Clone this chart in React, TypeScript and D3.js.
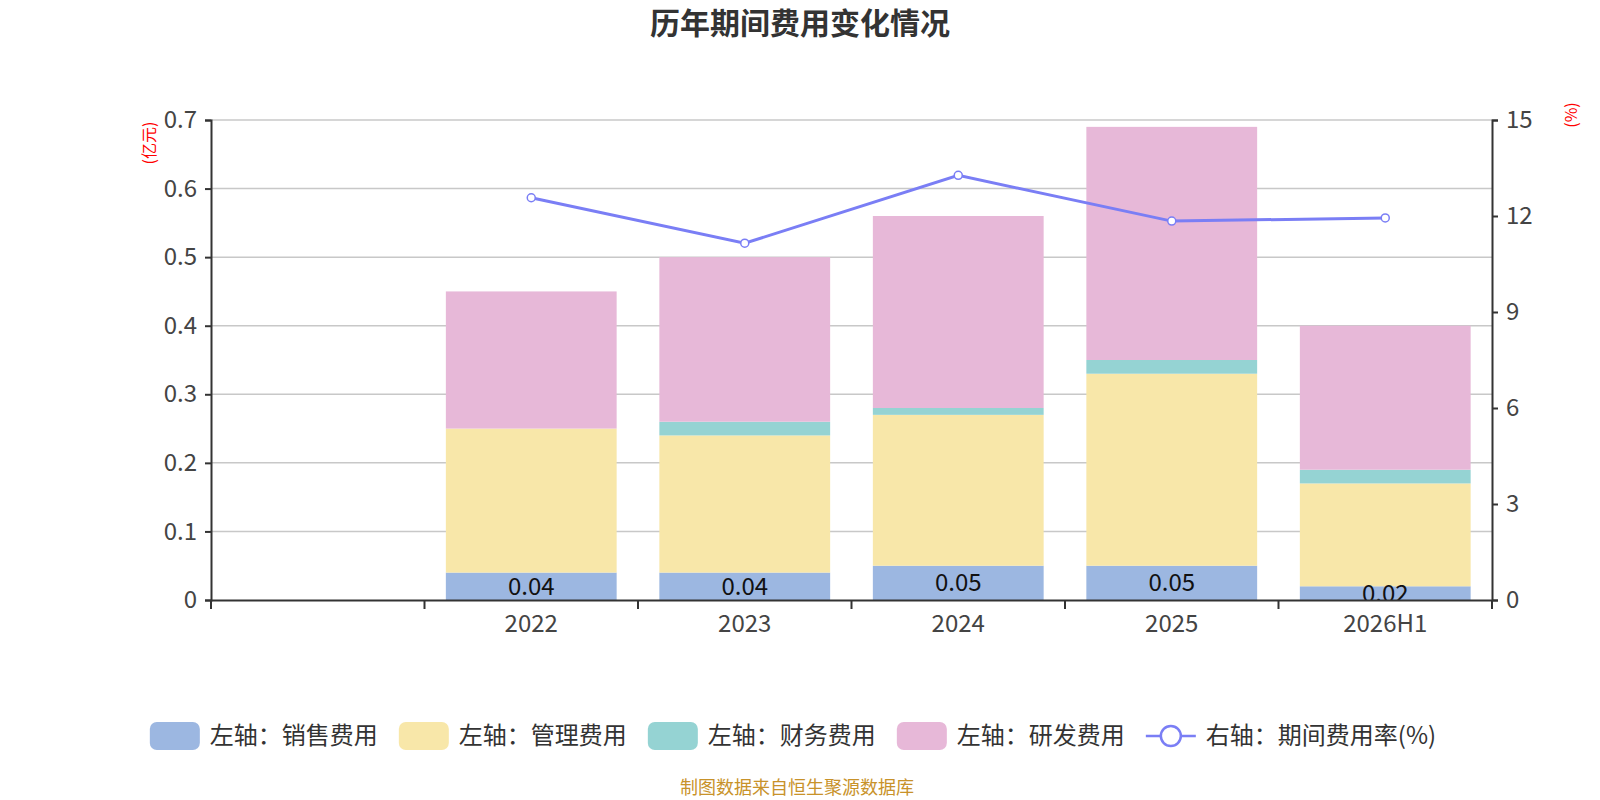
import { useEffect, useRef } from "react"
import * as d3 from "d3"

// categories (first slot is an empty category on the axis)
const categories = ["", "2022", "2023", "2024", "2025", "2026H1"]
const salesExp = [null, 0.04, 0.04, 0.05, 0.05, 0.02]
const adminExp = [null, 0.21, 0.2, 0.22, 0.28, 0.15]
const financeExp = [null, 0, 0.02, 0.01, 0.02, 0.02]
const rdExp = [null, 0.2, 0.24, 0.28, 0.34, 0.21]
const expenseRate = [null, 12.57, 11.15, 13.27, 11.84, 11.94]

const leftTicks = [0, 0.1, 0.2, 0.3, 0.4, 0.5, 0.6, 0.7]
const rightTicks = [0, 3, 6, 9, 12, 15]

const seriesNames = ["左轴：销售费用", "左轴：管理费用", "左轴：财务费用", "左轴：研发费用"]
const seriesColors = ["#9cb7e1", "#f8e7a9", "#95d3d3", "#e7b8d8"]
const lineName = "右轴：期间费用率(%)"
const lineColor = "#7a7ef5"

const FONT = "'Noto Sans CJK SC', 'Noto Sans', sans-serif"

export default function App() {
  const svgRef = useRef<SVGSVGElement>(null)

  useEffect(() => {
    if (!svgRef.current) return
    const width = 1600
    const height = 800
    const margin = { top: 120, right: 108, bottom: 200, left: 211 }
    const innerW = width - margin.left - margin.right
    const innerH = height - margin.top - margin.bottom

    const root = d3.select(svgRef.current)
    root.selectAll("*").remove()
    root.attr("width", width).attr("height", height).style("font-family", FONT)

    root
      .append("rect")
      .attr("width", width)
      .attr("height", height)
      .attr("fill", "#fff")

    // Title
    root
      .append("text")
      .attr("x", 800)
      .attr("y", 23)
      .attr("dy", "0.35em")
      .attr("text-anchor", "middle")
      .attr("font-size", 30)
      .attr("font-weight", "bold")
      .attr("fill", "#333")
      .text("历年期间费用变化情况")

    const g = root.append("g").attr("transform", `translate(${margin.left},${margin.top})`)

    const x = d3.scaleBand<string>().domain(categories).range([0, innerW]).paddingInner(0).paddingOuter(0)
    const yL = d3.scaleLinear().domain([0, 0.7]).range([innerH, 0])
    const yR = d3.scaleLinear().domain([0, 15]).range([innerH, 0])

    // grid
    g.append("g")
      .selectAll("line")
      .data(leftTicks.filter((t) => t > 0))
      .join("line")
      .attr("x1", 0)
      .attr("x2", innerW)
      .attr("y1", (d) => yL(d))
      .attr("y2", (d) => yL(d))
      .attr("stroke", "#c8c8c8")
      .attr("stroke-width", 1.5)

    // stacked bars
    const rows = categories.map((c, i) => ({
      cat: c,
      s0: salesExp[i] ?? 0,
      s1: adminExp[i] ?? 0,
      s2: financeExp[i] ?? 0,
      s3: rdExp[i] ?? 0,
    }))
    const stack = d3.stack<(typeof rows)[number]>().keys(["s0", "s1", "s2", "s3"])(rows)
    const barW = x.bandwidth() * 0.8
    const off = (x.bandwidth() - barW) / 2

    const clipId = "plot-clip"
    g.append("clipPath").attr("id", clipId).append("rect").attr("width", innerW).attr("height", innerH)

    stack.forEach((layer, li) => {
      g.append("g")
        .selectAll("rect")
        .data(layer.filter((d) => d.data.cat !== "" && d[1] - d[0] > 0))
        .join("rect")
        .attr("x", (d) => (x(d.data.cat) ?? 0) + off)
        .attr("width", barW)
        .attr("y", (d) => yL(d[1]))
        .attr("height", (d) => yL(d[0]) - yL(d[1]))
        .attr("fill", seriesColors[li])
    })

    // labels for the bottom series
    g.append("g")
      .attr("clip-path", `url(#${clipId})`)
      .selectAll("text")
      .data(stack[0].filter((d) => d.data.cat !== ""))
      .join("text")
      .attr("x", (d) => (x(d.data.cat) ?? 0) + x.bandwidth() / 2)
      .attr("y", (d) => (yL(d[0]) + yL(d[1])) / 2)
      .attr("dy", "0.35em")
      .attr("text-anchor", "middle")
      .attr("font-size", 24)
      .attr("fill", "#111")
      .text((d) => d3.format(".2f")(d[1] - d[0]))

    // rate line
    const pts = categories
      .map((c, i) => ({ c, v: expenseRate[i] }))
      .filter((d) => d.v !== null) as { c: string; v: number }[]
    const line = d3
      .line<{ c: string; v: number }>()
      .x((d) => (x(d.c) ?? 0) + x.bandwidth() / 2)
      .y((d) => yR(d.v))
    g.append("path")
      .datum(pts)
      .attr("d", line)
      .attr("fill", "none")
      .attr("stroke", lineColor)
      .attr("stroke-width", 3)
    g.append("g")
      .selectAll("circle")
      .data(pts)
      .join("circle")
      .attr("cx", (d) => (x(d.c) ?? 0) + x.bandwidth() / 2)
      .attr("cy", (d) => yR(d.v))
      .attr("r", 4)
      .attr("fill", "#fff")
      .attr("stroke", lineColor)
      .attr("stroke-width", 1.5)

    // axes
    const axisColor = "#333"
    const left = g
      .append("g")
      .call(d3.axisLeft(yL).tickValues(leftTicks).tickSize(6).tickPadding(8).tickFormat((d) => String(d)))
    left.select(".domain").attr("stroke", axisColor).attr("stroke-width", 2)
    left.selectAll(".tick line").attr("stroke", axisColor).attr("stroke-width", 2)
    left.selectAll("text").attr("font-size", 24).attr("fill", "#444").style("font-family", FONT)

    const right = g
      .append("g")
      .attr("transform", `translate(${innerW},0)`)
      .call(d3.axisRight(yR).tickValues(rightTicks).tickSize(6).tickPadding(8))
    right.select(".domain").attr("stroke", axisColor).attr("stroke-width", 2)
    right.selectAll(".tick line").attr("stroke", axisColor).attr("stroke-width", 2)
    right.selectAll("text").attr("font-size", 24).attr("fill", "#444").style("font-family", FONT)

    const bottom = g
      .append("g")
      .attr("transform", `translate(0,${innerH})`)
      .call(d3.axisBottom(x).tickSize(0).tickPadding(15))
    bottom.select(".domain").attr("stroke", axisColor).attr("stroke-width", 2)
    bottom.selectAll("text").attr("font-size", 24).attr("fill", "#444").style("font-family", FONT)
    // boundary ticks between categories
    const bounds = categories.map((c) => x(c) ?? 0).concat([innerW])
    bottom
      .append("g")
      .selectAll("line")
      .data(bounds)
      .join("line")
      .attr("x1", (d) => d)
      .attr("x2", (d) => d)
      .attr("y1", 0)
      .attr("y2", 9)
      .attr("stroke", axisColor)
      .attr("stroke-width", 2)

    // unit labels
    root
      .append("text")
      .attr("transform", `translate(149,143) rotate(-90)`)
      .attr("text-anchor", "middle")
      .attr("dy", "0.35em")
      .attr("font-size", 16)
      .attr("fill", "#f00")
      .text("(亿元)")
    root
      .append("text")
      .attr("transform", `translate(1571,115) rotate(-90)`)
      .attr("text-anchor", "middle")
      .attr("dy", "0.35em")
      .attr("font-size", 16)
      .attr("fill", "#f00")
      .text("(%)")

    // legend
    const legend = root.append("g").attr("transform", "translate(0,736)")
    const items = [
      ...seriesNames.map((n, i) => ({ name: n, color: seriesColors[i], kind: "bar" })),
      { name: lineName, color: lineColor, kind: "line" },
    ]
    const iconW = 50
    const iconGap = 10
    const itemGap = 21
    const itemGs = items.map((it) => {
      const ig = legend.append("g")
      if (it.kind === "bar") {
        ig.append("rect")
          .attr("x", 0)
          .attr("y", -14)
          .attr("width", iconW)
          .attr("height", 28)
          .attr("rx", 7)
          .attr("fill", it.color)
      } else {
        ig.append("line")
          .attr("x1", 0)
          .attr("x2", iconW)
          .attr("y1", 0)
          .attr("y2", 0)
          .attr("stroke", it.color)
          .attr("stroke-width", 2.5)
        ig.append("circle")
          .attr("cx", iconW / 2)
          .attr("cy", 0)
          .attr("r", 10)
          .attr("fill", "#fff")
          .attr("stroke", it.color)
          .attr("stroke-width", 2.5)
      }
      const t = ig
        .append("text")
        .attr("x", iconW + iconGap)
        .attr("dy", "0.35em")
        .attr("font-size", 24)
        .attr("fill", "#333")
        .text(it.name)
      const tw = (t.node() as SVGTextElement).getComputedTextLength()
      return { ig, w: iconW + iconGap + tw }
    })
    const total = itemGs.reduce((s, d) => s + d.w, 0) + itemGap * (itemGs.length - 1)
    let cx = 793 - total / 2
    itemGs.forEach((d) => {
      d.ig.attr("transform", `translate(${cx},0)`)
      cx += d.w + itemGap
    })

    // source
    root
      .append("text")
      .attr("x", 797)
      .attr("y", 788)
      .attr("dy", "0.35em")
      .attr("text-anchor", "middle")
      .attr("font-size", 18)
      .attr("fill", "#c8922a")
      .text("制图数据来自恒生聚源数据库")
  }, [])

  return (
    <div style={{ position: "absolute", left: 0, top: 0 }}>
      <svg ref={svgRef} />
    </div>
  )
}
